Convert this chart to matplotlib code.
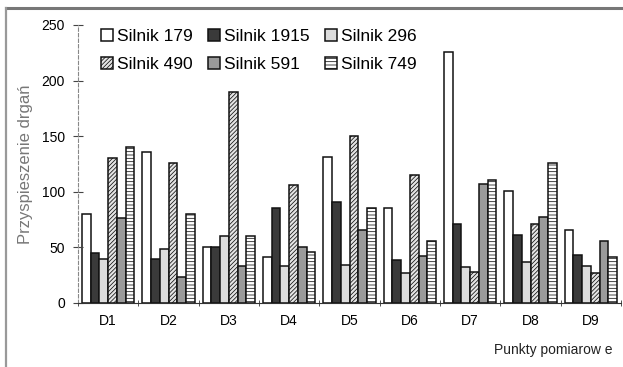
import matplotlib.pyplot as plt
import numpy as np

# categories and series
POINTS = ["D1", "D2", "D3", "D4", "D5", "D6", "D7", "D8", "D9"]
SILNIK_179 = [80, 136, 50, 41, 131, 85, 226, 101, 66]
SILNIK_1915 = [45, 40, 50, 85, 91, 39, 71, 61, 43]
SILNIK_296 = [40, 49, 60, 33, 34, 27, 32, 37, 33]
SILNIK_490 = [130, 126, 190, 106, 150, 115, 28, 71, 27]
SILNIK_591 = [76, 23, 33, 50, 66, 42, 107, 77, 56]
SILNIK_749 = [140, 80, 60, 46, 85, 56, 111, 126, 41]
LABELS = ["Silnik 179", "Silnik 1915", "Silnik 296",
          "Silnik 490", "Silnik 591", "Silnik 749"]
Y_TICKS = [0, 50, 100, 150, 200, 250]

SERIES = [SILNIK_179, SILNIK_1915, SILNIK_296, SILNIK_490, SILNIK_591, SILNIK_749]
STYLES = [
    dict(facecolor="white", hatch=None),
    dict(facecolor="#3a3a3a", hatch=None),
    dict(facecolor="#dcdcdc", hatch=None),
    dict(facecolor="#e4e4e4", hatch="////////"),
    dict(facecolor="#9a9a9a", hatch=None),
    dict(facecolor="white", hatch="-----"),
]

plt.rcParams["font.family"] = ["Liberation Sans", "DejaVu Sans"]
plt.rcParams["hatch.linewidth"] = 0.55

fig = plt.figure(figsize=(6.23, 3.67), dpi=100)
ax = fig.add_axes([0.1252, 0.1744, 0.8716, 0.7575])

# scanned page frame (top and left edges)
fig.add_artist(plt.Line2D([6 / 623, 1.0], [1 - 8 / 367, 1 - 8 / 367],
                          transform=fig.transFigure, color="#777777", lw=2.2))
fig.add_artist(plt.Line2D([6 / 623, 6 / 623], [0.0, 1 - 8 / 367],
                          transform=fig.transFigure, color="#999999", lw=1.6))

x = np.arange(len(POINTS))
n = len(SERIES)
bw = 0.144
bars = []
for i, (vals, st, lab) in enumerate(zip(SERIES, STYLES, LABELS)):
    bars.append(ax.bar(x + (i - (n - 1) / 2) * bw, vals, width=bw, label=lab,
                       facecolor=st["facecolor"], hatch=st["hatch"],
                       edgecolor="#111111", linewidth=1.1))

ax.set_xlim(-0.5, len(POINTS) - 0.5)
ax.set_ylim(0, 250)
ax.set_yticks(Y_TICKS)
ax.set_xticks(x)
ax.set_xticklabels(POINTS, fontsize=10)
ax.set_xticks(np.arange(len(POINTS) + 1) - 0.5, minor=True)
ax.tick_params(axis="x", which="major", length=0, pad=8)
ax.tick_params(axis="x", which="minor", length=4, direction="inout", color="#333333")
ax.tick_params(axis="y", length=7, direction="inout", labelsize=10, color="#444444", pad=6)

ax.spines[["top", "right"]].set_visible(False)
ax.spines["left"].set_linestyle((0, (3, 2)))
ax.spines["left"].set_color("#888888")
ax.spines["bottom"].set_color("#333333")

ax.set_ylabel("Przyspieszenie drgań", fontsize=12, color="#777777", labelpad=6)
fig.text(612 / 623, 1 - 350 / 367, "Punkty pomiarow e", fontsize=10,
         ha="right", va="center", color="#222222")

# legend fills row by row in the reference: reorder for column-wise filling
order = [0, 3, 1, 4, 2, 5]
ax.legend([bars[k] for k in order], [LABELS[k] for k in order],
          loc="upper left", bbox_to_anchor=(0.02, 1.03), ncol=3, frameon=False,
          fontsize=12.5, handlelength=0.7, handleheight=0.7, handletextpad=0.2,
          columnspacing=0.9, labelspacing=0.75, borderpad=0.2)

fig.savefig("out.png", dpi=100)
